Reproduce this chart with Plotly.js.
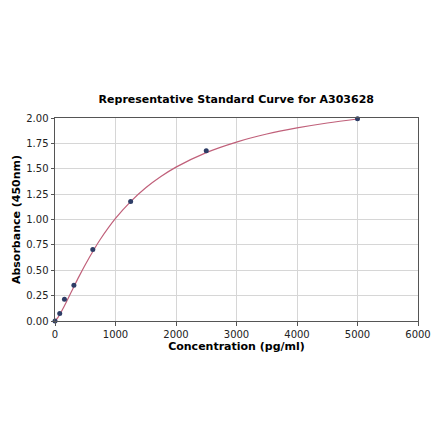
<!DOCTYPE html>
<html>
<head>
<meta charset="utf-8">
<script src="https://cdn.plot.ly/plotly-3.0.1.min.js"></script>
<style>
html,body{margin:0;padding:0;background:#fff;}
#chart{width:440px;height:441px;}
</style>
</head>
<body>
<div id="chart"></div>
<script>
var concentrations = [0, 78, 156, 312, 625, 1250, 2500, 5000];
var absorbances = [0.0, 0.075, 0.215, 0.352, 0.705, 1.178, 1.678, 1.992];

var curveX = [0, 50, 100, 150, 200, 300, 400, 500, 625, 750, 1000, 1250, 1500, 1750, 2000, 2500, 3000, 3500, 4000, 4500, 5000];
var curveY = [0.0, 0.036, 0.087, 0.143, 0.202, 0.323, 0.442, 0.554, 0.685, 0.805, 1.010, 1.176, 1.312, 1.423, 1.516, 1.659, 1.763, 1.842, 1.902, 1.951, 1.990];

var xTicks = [0, 1000, 2000, 3000, 4000, 5000, 6000];
var yTicks = [0, 0.25, 0.5, 0.75, 1.0, 1.25, 1.5, 1.75, 2.0];
var yTickLabels = ['0.00', '0.25', '0.50', '0.75', '1.00', '1.25', '1.50', '1.75', '2.00'];

var font = 'DejaVu Sans, sans-serif';

var data = [
  {
    x: curveX, y: curveY, mode: 'lines', type: 'scatter',
    line: {color: '#c0607a', width: 1.2, shape: 'spline'},
    hoverinfo: 'skip', showlegend: false, cliponaxis: true
  },
  {
    x: concentrations, y: absorbances, mode: 'markers', type: 'scatter',
    marker: {color: '#2e3d66', size: 5},
    showlegend: false, cliponaxis: false
  }
];

var layout = {
  width: 440, height: 441,
  margin: {l: 55, r: 22, t: 118, b: 120, pad: 0},
  paper_bgcolor: '#ffffff', plot_bgcolor: '#ffffff',
  title: {
    text: '<b>Representative Standard Curve for A303628</b>',
    font: {family: font, size: 11, color: '#000'},
    x: 0.537, xanchor: 'center', y: 0.775, yanchor: 'middle'
  },
  xaxis: {
    range: [0, 6000], tickvals: xTicks, ticktext: xTicks.map(String),
    showgrid: true, gridcolor: '#d6d6d6', gridwidth: 1,
    zeroline: false, showline: true, linecolor: '#555', linewidth: 1, mirror: true,
    ticks: 'outside', ticklen: 3.5, tickcolor: '#555',
    tickfont: {family: font, size: 10, color: '#222'},
    title: {text: '<b>Concentration (pg/ml)</b>', font: {family: font, size: 11, color: '#000'}, standoff: 3}
  },
  yaxis: {
    range: [0, 2.0], tickvals: yTicks, ticktext: yTickLabels,
    showgrid: true, gridcolor: '#d6d6d6', gridwidth: 1,
    zeroline: false, showline: true, linecolor: '#555', linewidth: 1, mirror: true,
    ticks: 'outside', ticklen: 3.5, tickcolor: '#555',
    tickfont: {family: font, size: 10, color: '#222'},
    title: {text: '<b>Absorbance (450nm)</b>', font: {family: font, size: 11, color: '#000'}, standoff: 3}
  }
};

Plotly.newPlot('chart', data, layout, {staticPlot: true, displayModeBar: false});
</script>
</body>
</html>
